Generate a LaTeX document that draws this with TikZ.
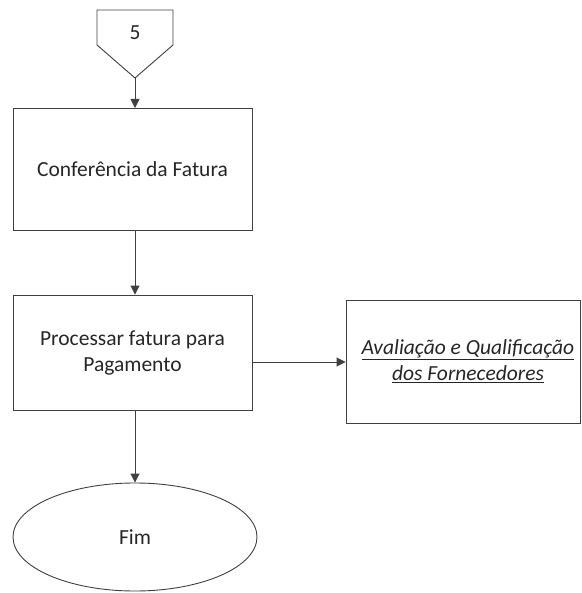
\documentclass[tikz,border=0pt]{standalone}
\usepackage{fontspec}
\setmainfont{Carlito}
\usetikzlibrary{shapes.geometric,arrows.meta}
\begin{document}
\begin{tikzpicture}[x=1pt,y=-1pt,
  line width=0.9pt, draw=black!75,
  box/.style={draw=black!75, line width=0.9pt},
  lbl/.style={font=\fontsize{21.5}{26}\selectfont, align=center, text=black!85},
  arr/.style={draw=black!75, line width=0.9pt, -{Triangle[length=9pt,width=9pt]}}]
\useasboundingbox (0,0) rectangle (581,593);
\draw[box] (97,10) -- (173,10) -- (173,45) -- (135,78) -- (97,45) -- cycle;
\node[lbl] (off) at (135,33) {5};
\coordinate (offb) at (135,78);
\node[box, minimum width=239pt, minimum height=122pt] (b1) at (132.5,169) {};
\node[lbl] at (b1) {Conferência da Fatura};
\node[box, minimum width=239pt, minimum height=115pt] (b2) at (132.5,352.5) {};
\node[lbl] at (b2) {Processar fatura para\\Pagamento};
\node[box, minimum width=234pt, minimum height=123pt] (b3) at (463,361.5) {};
\node[lbl, font=\fontsize{21.5}{26}\selectfont\itshape] at (468,361) {\underline{Avaliação e Qualificação}\\\underline{dos Fornecedores}};
\node[draw=black!75, line width=0.9pt, ellipse, minimum width=244pt, minimum height=108pt, inner sep=0pt] (e) at (135,537) {};
\node[lbl] at (e) {Fim};
\draw[arr] (offb) -- (135,108);
\draw[arr] (b1.south -| 135,0) -- (b2.north -| 135,0);
\draw[arr] (252,362) -- (b3.west |- 0,362);
\draw[arr] (b2.south -| 135,0) -- (e.north);
\end{tikzpicture}
\end{document}
